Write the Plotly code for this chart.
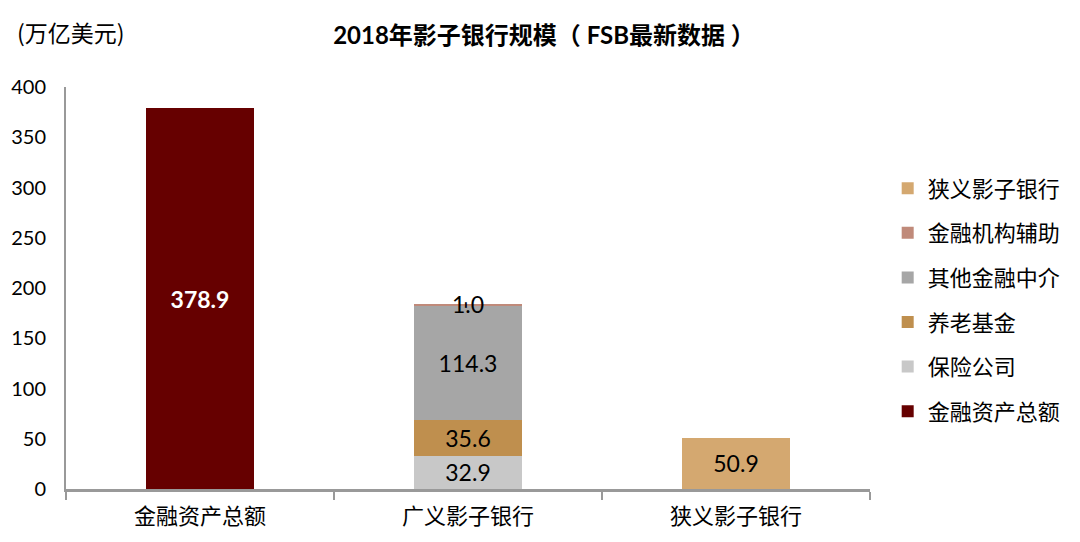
import plotly.graph_objects as go

categories = ["金融资产总额", "广义影子银行", "狭义影子银行"]
series_names = ["金融资产总额", "保险公司", "养老基金", "其他金融中介", "金融机构辅助", "狭义影子银行"]
total_assets = [378.9, None, None]
insurance = [None, 32.9, None]
pension = [None, 35.6, None]
other_intermediaries = [None, 114.3, None]
auxiliaries = [None, 1.0, None]
narrow_sb = [None, None, 50.9]
colors = ["#660000", "#C8C8C8", "#BF8F4E", "#A6A6A6", "#C08A7A", "#D4A870"]
yticks = [0, 50, 100, 150, 200, 250, 300, 350, 400]

series = [total_assets, insurance, pension, other_intermediaries, auxiliaries, narrow_sb]
FONT = "Lato, 'Noto Sans CJK SC', sans-serif"
CJK = "'Noto Sans CJK SC', sans-serif"

fig = go.Figure()
for i, (name, vals, col) in enumerate(zip(series_names, series, colors)):
    show_text = name != "金融机构辅助"
    txt = [f"{v:.1f}" if v is not None else None for v in vals]
    fig.add_trace(go.Bar(
        x=categories, y=vals, name=name, marker=dict(color=col, line=dict(width=0)),
        text=txt if show_text else None,
        textposition="inside", insidetextanchor="middle",
        textfont=dict(family=FONT, size=23,
                      color="white" if i == 0 else "black"),
        texttemplate="<b>%{text}</b>" if i == 0 else "%{text}",
        legendgroup=name, legendrank=100 - i, constraintext="none",
    ))

# label for the thin 金融机构辅助 segment, centered at the top of the stack
stack_top = sum(s[1] for s in series[1:5] if s[1] is not None)
fig.add_annotation(x=categories[1], y=stack_top, text=f"{auxiliaries[1]:.1f}",
                   showarrow=False, font=dict(family=FONT, size=23, color="black"),
                   yanchor="middle")

fig.update_layout(
    width=1072, height=534,
    barmode="stack", bargap=0.6,
    plot_bgcolor="white", paper_bgcolor="white",
    margin=dict(l=58, r=210, t=79, b=53),
    title=dict(text="<b>2018年影子银行规模（ FSB最新数据 ）</b>", x=0.5, xanchor="center",
               y=0.949, yanchor="middle", font=dict(family=FONT, size=24, color="black")),
    legend=dict(x=1.022, xanchor="left", y=0.8, yanchor="top",
                traceorder="grouped", tracegroupgap=13,
                font=dict(family=CJK, size=22, color="black"), itemwidth=30),
    showlegend=True,
)
fig.update_yaxes(range=[0, 400], tickvals=yticks, showgrid=False, zeroline=False,
                 showline=True, linecolor="#999999", linewidth=2,
                 ticks="", ticklabelstandoff=14, automargin=False,
                 tickfont=dict(family=FONT, size=20, color="black"))
fig.update_xaxes(showline=True, linecolor="#999999", linewidth=3, automargin=False,
                 ticks="outside", tickson="boundaries", ticklen=8, tickcolor="#999999",
                 tickwidth=2, ticklabelstandoff=6,
                 tickfont=dict(family=CJK, size=22, color="black"))
fig.add_annotation(text="(万亿美元)", xref="paper", yref="paper", x=-0.063, y=1.137,
                   xanchor="left", yanchor="middle", showarrow=False,
                   font=dict(family=CJK, size=23, color="black"))

fig.write_html("out.html")
